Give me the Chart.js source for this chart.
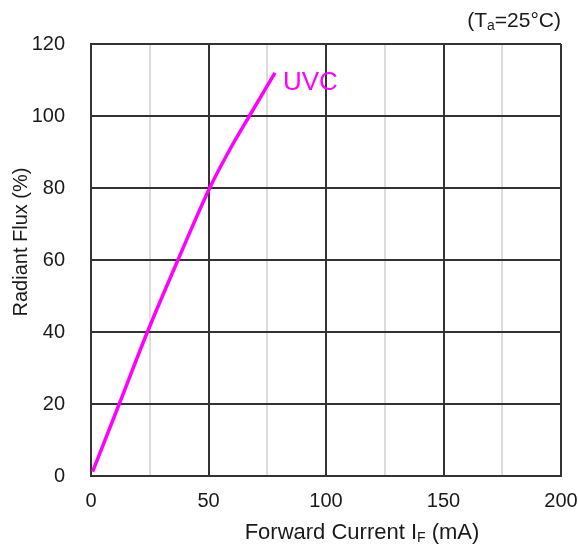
<!DOCTYPE html>
<html>
<head>
<meta charset="utf-8">
<script src="https://cdn.jsdelivr.net/npm/chart.js@4.4.1/dist/chart.umd.min.js"></script>
<style>
  html, body { margin: 0; padding: 0; background: #fff; }
  #wrap { width: 578px; height: 551px; }
</style>
</head>
<body>
<div id="wrap"><canvas id="chart" width="578" height="551"></canvas></div>
<script>
// forward current (mA) vs relative radiant flux (%)
const currentMA = [0.7, 12, 24, 37, 50.5, 58.5, 67.4, 78.3];
const radiantFlux = [1.2, 20, 40, 60, 80, 90, 100, 112];
const seriesName = "UVC";
const xTicks = [0, 50, 100, 150, 200];
const yTicks = [0, 20, 40, 60, 80, 100, 120];

const FONT = '"Liberation Sans", Arial, sans-serif';
const TEXT = "#1a1a1a";
const MAGENTA = "#ff00ff";

// titles with subscripts, drawn on the canvas as text
const textPlugin = {
  id: "texts",
  afterDraw(chart) {
    const ctx = chart.ctx;
    const area = chart.chartArea;
    ctx.save();
    ctx.fillStyle = TEXT;
    ctx.textBaseline = "middle";
    ctx.textAlign = "left";

    // x title: Forward Current I_F (mA)
    const a = "Forward Current I";
    const b = " (mA)";
    ctx.font = `22px ${FONT}`;
    const wa = ctx.measureText(a).width;
    const wb = ctx.measureText(b).width;
    ctx.font = `14px ${FONT}`;
    const ws = ctx.measureText("F").width;
    const x = 362 - (wa + ws + wb) / 2;
    const y = 533;
    ctx.font = `22px ${FONT}`;
    ctx.fillText(a, x, y);
    ctx.font = `14px ${FONT}`;
    ctx.fillText("F", x + wa, y + 5);
    ctx.font = `22px ${FONT}`;
    ctx.fillText(b, x + wa + ws, y);

    // y title
    ctx.save();
    ctx.translate(21, 242);
    ctx.rotate(-Math.PI / 2);
    ctx.textAlign = "center";
    ctx.font = `20px ${FONT}`;
    ctx.fillText("Radiant Flux (%)", 0, 0);
    ctx.restore();

    // (T_a=25°C)
    const p1 = "(T", p2 = "=25\u00B0C)";
    ctx.font = `21px ${FONT}`;
    const w1 = ctx.measureText(p1).width;
    const w2 = ctx.measureText(p2).width;
    ctx.font = `14px ${FONT}`;
    const wsub = ctx.measureText("a").width;
    const tx = area.right - (w1 + wsub + w2);
    ctx.font = `21px ${FONT}`;
    ctx.fillText(p1, tx, 21);
    ctx.font = `14px ${FONT}`;
    ctx.fillText("a", tx + w1, 26);
    ctx.font = `21px ${FONT}`;
    ctx.fillText(p2, tx + w1 + wsub, 21);

    // series label at the end of the curve
    const last = currentMA.length - 1;
    const px = chart.scales.x.getPixelForValue(currentMA[last]);
    const py = chart.scales.y.getPixelForValue(radiantFlux[last]);
    ctx.fillStyle = MAGENTA;
    ctx.font = `26px ${FONT}`;
    ctx.fillText(seriesName, px + 8, py + 10);
    ctx.restore();
  }
};

new Chart(document.getElementById("chart"), {
  type: "line",
  data: {
    datasets: [{
      label: seriesName,
      data: currentMA.map((v, i) => ({ x: v, y: radiantFlux[i] })),
      borderColor: MAGENTA,
      borderWidth: 3.5,
      pointRadius: 0,
      cubicInterpolationMode: "monotone",
      fill: false
    }]
  },
  options: {
    responsive: false,
    animation: false,
    events: [],
    layout: { padding: { top: 44, right: 17, left: 0, bottom: 0 } },
    plugins: { legend: { display: false }, tooltip: { enabled: false } },
    scales: {
      x: {
        type: "linear",
        min: 0,
        max: 200,
        afterFit(scale) {
          scale.height = 75;
          scale.paddingLeft = 0;
          scale.paddingRight = 0;
        },
        afterBuildTicks(scale) {
          const t = [];
          for (let v = 0; v <= 200; v += 25) t.push({ value: v });
          scale.ticks = t;
        },
        ticks: {
          autoSkip: false,
          maxRotation: 0,
          padding: 13,
          color: TEXT,
          font: { family: FONT, size: 20 },
          callback: v => xTicks.includes(v) ? v : ""
        },
        grid: {
          drawTicks: false,
          color: c => (c.tick && c.tick.value % 50 === 0) ? "#333" : "#dcdcdc",
          lineWidth: 2
        },
        border: { color: "#333", width: 2 }
      },
      y: {
        type: "linear",
        min: 0,
        max: 120,
        afterFit(scale) {
          scale.width = 91;
          scale.paddingTop = 0;
          scale.paddingBottom = 0;
        },
        afterBuildTicks(scale) { scale.ticks = yTicks.map(v => ({ value: v })); },
        ticks: {
          padding: 26,
          color: TEXT,
          font: { family: FONT, size: 20 }
        },
        grid: { drawTicks: false, color: "#333", lineWidth: 2 },
        border: { color: "#333", width: 2 }
      }
    }
  },
  plugins: [textPlugin]
});
</script>
</body>
</html>
